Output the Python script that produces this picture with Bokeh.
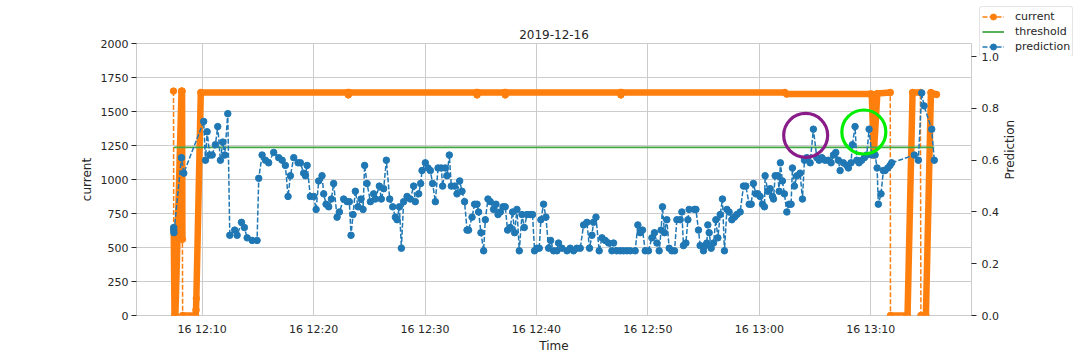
import math
import numpy as np
import pandas as pd
from bokeh.plotting import figure
from bokeh.layouts import column
from bokeh.models import (Range1d, LinearAxis, FixedTicker, SingleIntervalTicker,
                          DatetimeTickFormatter, PrintfTickFormatter, Legend, LegendItem)
from bokeh.embed import file_html
from bokeh.resources import INLINE

# ---------------- data ----------------
DAY = "2019-12-16"
START = "12:00"          # minutes below are counted from this time
x_tick_labels = ["12:10", "12:20", "12:30", "12:40", "12:50", "13:00", "13:10"]
x_view = [4.11, 79.04]   # visible time window, minutes after START

# current (left axis): readings at the break points of the curve
cur_min = [7.43, 7.45, 7.52, 7.60, 8.15, 8.20, 8.23, 8.25, 9.42, 9.45, 9.48, 9.88,
           23.05, 23.12, 23.19, 34.60, 34.67, 34.74, 37.13, 37.20, 37.27,
           47.51, 47.58, 47.65, 62.30, 62.45, 69.93, 70.09, 70.27, 70.59,
           71.75, 71.77, 73.30, 73.75, 74.45, 74.50, 74.95, 75.40, 75.90]
cur_val = [1650, 640, 0, 0, 1650, 1650, 560, 0, 0, 40, 125, 1640,
           1640, 1622, 1640, 1640, 1622, 1640, 1640, 1622, 1640,
           1640, 1622, 1640, 1640, 1628, 1628, 1628, 1180, 1632,
           1640, 0, 0, 1640, 1640, 0, 0, 1640, 1625]
cur_jumps = [7.43, 8.23, 71.75, 74.45]   # readings followed by a sudden jump

# prediction (right axis)
pred_min = [7.45, 7.46, 7.47, 8.14, 8.35, 10.14, 10.30, 10.45, 10.68, 10.90, 11.19, 11.40,
            11.64, 11.85, 12.03, 12.30, 12.48, 12.92, 13.14, 13.53, 13.79, 14.04, 14.49, 14.93,
            15.08, 15.38, 15.68, 15.97, 16.42, 16.87, 17.18, 17.47, 17.71, 17.92, 18.22, 18.61,
            18.82, 19.11, 19.27, 19.42, 19.71, 20.01, 20.23, 20.46, 20.76, 20.91, 21.12, 21.36,
            21.60, 21.80, 22.11, 22.32, 22.70, 23.01, 23.21, 23.36, 23.54, 23.75, 23.99, 24.26,
            24.44, 24.58, 24.80, 25.10, 25.39, 25.54, 25.90, 26.08, 26.29, 26.53, 26.83, 27.10,
            27.34, 27.49, 27.70, 27.88, 28.08, 28.39, 28.68, 28.98, 29.13, 29.43, 29.61, 29.73,
            30.03, 30.27, 30.48, 30.68, 30.93, 31.17, 31.46, 31.58, 31.82, 31.98, 32.18, 32.36,
            32.66, 32.87, 33.11, 33.32, 33.55, 33.77, 33.91, 34.22, 34.45, 34.67, 34.81, 35.02,
            35.26, 35.41, 35.65, 35.86, 36.15, 36.37, 36.55, 36.76, 37.00, 37.20, 37.41, 37.65,
            37.86, 38.04, 38.25, 38.46, 38.70, 38.91, 39.15, 39.45, 39.65, 39.83, 40.05, 40.25,
            40.40, 40.64, 40.85, 41.09, 41.27, 41.54, 41.84, 41.98, 42.29, 42.74, 43.03, 43.33,
            43.63, 43.93, 44.23, 44.53, 44.76, 44.98, 45.12, 45.34, 45.63, 45.88, 46.17, 46.47,
            46.77, 46.92, 47.22, 47.52, 47.81, 48.12, 48.41, 48.86, 49.10, 49.31, 49.52, 49.76,
            50.05, 50.36, 50.59, 50.81, 51.01, 51.19, 51.31, 51.49, 51.70, 51.91, 52.15, 52.39,
            52.60, 52.90, 53.05, 53.19, 53.41, 53.59, 53.70, 54.18, 54.31, 54.54, 54.69, 54.99,
            55.14, 55.29, 55.38, 55.50, 55.68, 55.89, 56.10, 56.28, 56.49, 56.69, 56.87, 57.09,
            57.29, 57.53, 57.77, 57.98, 58.28, 58.58, 58.79, 59.09, 59.27, 59.47, 59.69, 59.87,
            60.07, 60.28, 60.46, 60.52, 60.76, 60.97, 61.18, 61.27, 61.42, 61.66, 61.78, 61.89,
            62.07, 62.25, 62.47, 62.67, 62.85, 62.97, 63.15, 63.37, 63.66, 63.87, 64.05, 64.26,
            64.56, 64.85, 65.16, 65.36, 65.61, 65.90, 66.20, 66.44, 66.65, 66.86, 67.09, 67.25,
            67.54, 67.85, 67.99, 68.23, 68.35, 68.59, 68.75, 68.95, 69.19, 69.43, 69.64, 69.85,
            70.09, 70.39, 70.57, 70.68, 70.92, 71.13, 71.28, 71.53, 71.73, 71.88, 73.91, 74.27,
            74.57, 74.78, 75.47, 75.70]
pred_val = [0.34, 0.33, 0.32, 0.61, 0.55, 0.75, 0.60, 0.71, 0.62, 0.62, 0.66, 0.73,
            0.60, 0.67, 0.62, 0.78, 0.31, 0.33, 0.31, 0.36, 0.34, 0.30, 0.29, 0.29,
            0.53, 0.62, 0.60, 0.59, 0.63, 0.61, 0.60, 0.58, 0.46, 0.54, 0.61, 0.59,
            0.59, 0.55, 0.54, 0.58, 0.46, 0.46, 0.41, 0.52, 0.54, 0.47, 0.43, 0.42,
            0.45, 0.51, 0.38, 0.40, 0.45, 0.44, 0.44, 0.31, 0.39, 0.48, 0.42, 0.45,
            0.41, 0.58, 0.51, 0.44, 0.47, 0.45, 0.50, 0.45, 0.49, 0.60, 0.45, 0.42,
            0.38, 0.37, 0.42, 0.26, 0.44, 0.46, 0.45, 0.50, 0.44, 0.47, 0.51, 0.56,
            0.59, 0.57, 0.56, 0.51, 0.44, 0.57, 0.57, 0.50, 0.57, 0.54, 0.62, 0.50,
            0.50, 0.47, 0.52, 0.48, 0.44, 0.33, 0.33, 0.38, 0.43, 0.43, 0.40, 0.32,
            0.25, 0.37, 0.45, 0.44, 0.41, 0.43, 0.39, 0.40, 0.42, 0.42, 0.33, 0.34,
            0.40, 0.32, 0.41, 0.25, 0.39, 0.34, 0.39, 0.39, 0.39, 0.25, 0.26, 0.26,
            0.37, 0.43, 0.38, 0.26, 0.29, 0.25, 0.25, 0.28, 0.26, 0.25, 0.26, 0.25,
            0.26, 0.26, 0.35, 0.36, 0.26, 0.31, 0.36, 0.38, 0.25, 0.30, 0.29, 0.28,
            0.25, 0.28, 0.25, 0.25, 0.25, 0.25, 0.25, 0.25, 0.35, 0.32, 0.33, 0.25,
            0.25, 0.30, 0.32, 0.28, 0.25, 0.33, 0.42, 0.32, 0.37, 0.26, 0.25, 0.25,
            0.37, 0.37, 0.40, 0.27, 0.28, 0.37, 0.41, 0.41, 0.41, 0.33, 0.27, 0.25,
            0.27, 0.28, 0.35, 0.32, 0.26, 0.28, 0.37, 0.30, 0.39, 0.45, 0.25, 0.41,
            0.40, 0.37, 0.38, 0.39, 0.40, 0.50, 0.50, 0.43, 0.43, 0.51, 0.47, 0.47,
            0.46, 0.43, 0.42, 0.54, 0.48, 0.49, 0.46, 0.45, 0.54, 0.54, 0.48, 0.59,
            0.52, 0.47, 0.40, 0.43, 0.43, 0.57, 0.50, 0.54, 0.55, 0.45, 0.60, 0.61,
            0.59, 0.72, 0.61, 0.60, 0.61, 0.60, 0.60, 0.59, 0.62, 0.63, 0.60, 0.56,
            0.59, 0.58, 0.57, 0.59, 0.66, 0.73, 0.60, 0.59, 0.60, 0.61, 0.62, 0.72,
            0.62, 0.62, 0.57, 0.43, 0.47, 0.56, 0.56, 0.57, 0.58, 0.59, 0.62, 0.60,
            0.86, 0.81, 0.72, 0.60]

threshold = 0.65

# highlighted spots (circled in the original)
mark_min = [64.16, 69.38]
mark_val = [0.696, 0.709]
mark_color = ["#8a1c8a", "#00ee00"]

legend_labels = ["current", "threshold", "prediction"]

# ---------------- helpers ----------------
base_ms = pd.Timestamp(f"{DAY} {START}").value / 1e6


def ms(m):
    return base_ms + np.asarray(m, dtype=float) * 60000.0


FONT = "DejaVu Sans"
TXT = "#262626"
ORANGE = "#ff7f0e"
BLUE = "#1f77b4"
GREEN = "#44a844"

p = figure(frame_width=835, frame_height=272, output_backend="svg", toolbar_location=None,
           x_range=Range1d(*ms(x_view)), y_range=Range1d(0, 2000),
           min_border_left=136, min_border_right=101, min_border_top=43, min_border_bottom=37,
           title=DAY)
p.extra_y_ranges = {"pred": Range1d(0, 1.051)}
p.background_fill_color = "white"
p.border_fill_alpha = 0.0
p.outline_line_color = "#cccccc"
p.outline_line_width = 1

p.title.align = "center"
p.title.text_font = FONT
p.title.text_font_size = "12px"
p.title.text_font_style = "normal"
p.title.text_color = TXT
p.title.standoff = 10

# x axis
tick_ms = [pd.Timestamp(f"{DAY} {t}").value / 1e6 for t in x_tick_labels]
xa = p.xaxis[0]
xa.ticker = FixedTicker(ticks=tick_ms)
fmt = "%d %H:%M"
xa.formatter = DatetimeTickFormatter(minutes=fmt, hourmin=fmt, hours=fmt, minsec=fmt,
                                     seconds=fmt, days=fmt)
xa.axis_label = "Time"
xa.axis_line_color = None
xa.major_tick_line_color = None
xa.minor_tick_line_color = None
xa.major_tick_out = 0
xa.major_label_standoff = 7
xa.axis_label_standoff = 0

# left axis
ya = p.yaxis[0]
ya.ticker = SingleIntervalTicker(interval=250, num_minor_ticks=0)
ya.axis_label = "current"
ya.axis_line_color = None
ya.major_tick_line_color = TXT
ya.minor_tick_line_color = None
ya.major_tick_out = 5
ya.major_tick_in = 0
ya.major_label_standoff = 3
ya.axis_label_standoff = 4

# right axis
ra = LinearAxis(y_range_name="pred", axis_label="Prediction",
                ticker=SingleIntervalTicker(interval=0.2, num_minor_ticks=0),
                formatter=PrintfTickFormatter(format="%.1f"))
ra.axis_line_color = None
ra.major_tick_line_color = TXT
ra.minor_tick_line_color = None
ra.major_tick_out = 5
ra.major_tick_in = 0
ra.major_label_standoff = 5
ra.axis_label_standoff = 8
ra.axis_label_orientation = math.pi / 2
p.add_layout(ra, "right")

for ax in (xa, ya, ra):
    ax.major_label_text_font = FONT
    ax.major_label_text_font_size = "11px"
    ax.major_label_text_color = TXT
    ax.axis_label_text_font = FONT
    ax.axis_label_text_font_size = "12px"
    ax.axis_label_text_font_style = "normal"
    ax.axis_label_text_color = TXT

p.xgrid.grid_line_color = "#cccccc"
p.ygrid.grid_line_color = "#cccccc"
p.xgrid.grid_line_width = 1
p.ygrid.grid_line_width = 1

# ---------------- current ----------------
thick_x, thick_y = [], []
for m, v in zip(cur_min, cur_val):
    thick_x.append(float(ms(m)))
    thick_y.append(v)
    if m in cur_jumps:
        thick_x.append(float("nan"))
        thick_y.append(float("nan"))
p.line(thick_x, thick_y, line_color=ORANGE, line_width=6.5, line_join="round", line_cap="round")
p.line(ms(cur_min), cur_val, line_color=ORANGE, line_width=1.5, line_dash="5 2")
p.scatter(ms(cur_min), cur_val, marker="circle", size=6.5, fill_color=ORANGE, line_color=ORANGE)

# ---------------- threshold ----------------
p.line(ms([pred_min[0], pred_min[-1]]), [threshold, threshold], y_range_name="pred",
       line_color=GREEN, line_width=1.8)

# ---------------- prediction ----------------
p.line(ms(pred_min), pred_val, y_range_name="pred", line_color=BLUE, line_width=1.5,
       line_dash="5 2")
p.scatter(ms(pred_min), pred_val, y_range_name="pred", marker="circle", size=6.5,
          fill_color=BLUE, line_color=BLUE)

# ---------------- highlight circles ----------------
p.scatter(ms(mark_min), mark_val, y_range_name="pred", marker="circle", size=44,
          fill_color=None, line_color=mark_color, line_width=3.2)

# ---------------- legend (small overlay figure, top right) ----------------
lf = figure(width=97, height=50, output_backend="svg", toolbar_location=None,
            x_range=Range1d(0, 1), y_range=Range1d(0, 1),
            x_axis_type=None, y_axis_type=None, min_border=0,
            margin=(6, 0, -56, 979))
lf.outline_line_color = None
lf.background_fill_alpha = 0.0
lf.border_fill_alpha = 0.0
lf.xgrid.visible = False
lf.ygrid.visible = False
off_x, off_y = [-5, -4], [-5, -4]          # legend-only glyphs, kept out of view
lc1 = lf.line(off_x, off_y, line_color=ORANGE, line_width=1.5, line_dash="5 2")
lc2 = lf.scatter(off_x, off_y, marker="circle", size=6.5, fill_color=ORANGE, line_color=ORANGE)
lt = lf.line(off_x, off_y, line_color=GREEN, line_width=1.8)
lp1 = lf.line(off_x, off_y, line_color=BLUE, line_width=1.5, line_dash="5 2")
lp2 = lf.scatter(off_x, off_y, marker="circle", size=6.5, fill_color=BLUE, line_color=BLUE)
legend = Legend(items=[LegendItem(label=legend_labels[0], renderers=[lc1, lc2]),
                       LegendItem(label=legend_labels[1], renderers=[lt]),
                       LegendItem(label=legend_labels[2], renderers=[lp1, lp2])],
                location="top_left")
legend.label_text_font = FONT
legend.label_text_font_size = "11px"
legend.label_text_color = TXT
legend.glyph_width = 22
legend.glyph_height = 15
legend.label_height = 15
legend.spacing = 0
legend.padding = 2
legend.margin = 0
legend.label_standoff = 11
legend.border_line_color = "#cccccc"
legend.border_line_width = 1
legend.border_radius = 3
legend.background_fill_color = "white"
legend.background_fill_alpha = 1.0
lf.add_layout(legend, "center")

layout = column(lf, p, spacing=0)
open("out.html", "w").write(file_html(layout, INLINE))
